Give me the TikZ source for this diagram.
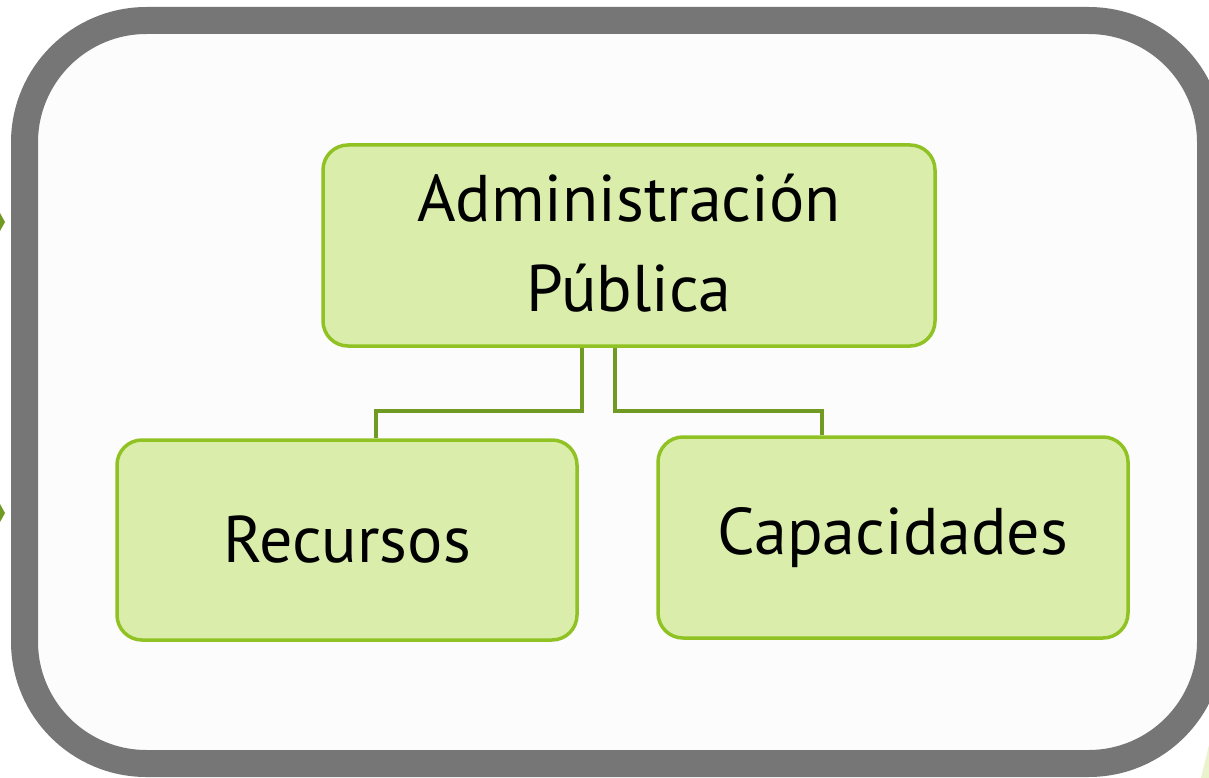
\documentclass[tikz,border=0pt]{standalone}
\usepackage{fontspec}
\setmainfont{PT Sans}

\definecolor{framegray}{RGB}{118,118,118}
\definecolor{boxfill}{RGB}{218,237,171}
\definecolor{boxline}{RGB}{143,194,34}
\definecolor{linkgreen}{RGB}{112,154,36}

\begin{document}
\begin{tikzpicture}[x=1pt, y=-1pt,
    concept/.style ={draw=boxline, fill=boxfill, line width=3.5pt, rounded corners=25pt,
      align=center, font=\fontsize{66}{90}\selectfont, inner sep=0pt},
    link/.style ={draw=linkgreen, line width=3.5pt}]
   \useasboundingbox (0,0) rectangle (1209,778);
   \fill[white] (0,0) rectangle (1209,778);
   % frame
   \draw[framegray, line width=27pt, rounded corners=122pt, fill=white!99!black] (24.5,20.5) rectangle (1210.5,763.5);
   % bits of the slide behind
   \fill[linkgreen] (0,213) -- (5,222) -- (0,231) -- cycle;
   \fill[linkgreen] (0,504) -- (5,513) -- (0,522) -- cycle;
   \fill[boxfill!60!white] (1209,745) -- (1209,778) -- (1201,778) -- cycle;
   % boxes
   \node[concept, minimum width=612pt, minimum height=201pt, text depth=6pt] (adm) at (629,245.5) {Administración\\Pública};
   \node[concept, minimum width=460pt, minimum height=200pt] (rec) at (347,540) {Recursos};
   \node[concept, minimum width=470pt, minimum height=201pt] (cap) at (893,537.5) {Capacidades};
   \coordinate (ja) at (582,411);
   \coordinate (jb) at (615,411);
   \coordinate (ra) at (376,411);
   \coordinate (ca) at (822,411);
   \draw[link] (ja |- adm.south) -- (ja) -- (ra) -- (ra |- rec.north);
   \draw[link] (jb |- adm.south) -- (jb) -- (ca) -- (ca |- cap.north);
 \end{tikzpicture}
\end{document}
